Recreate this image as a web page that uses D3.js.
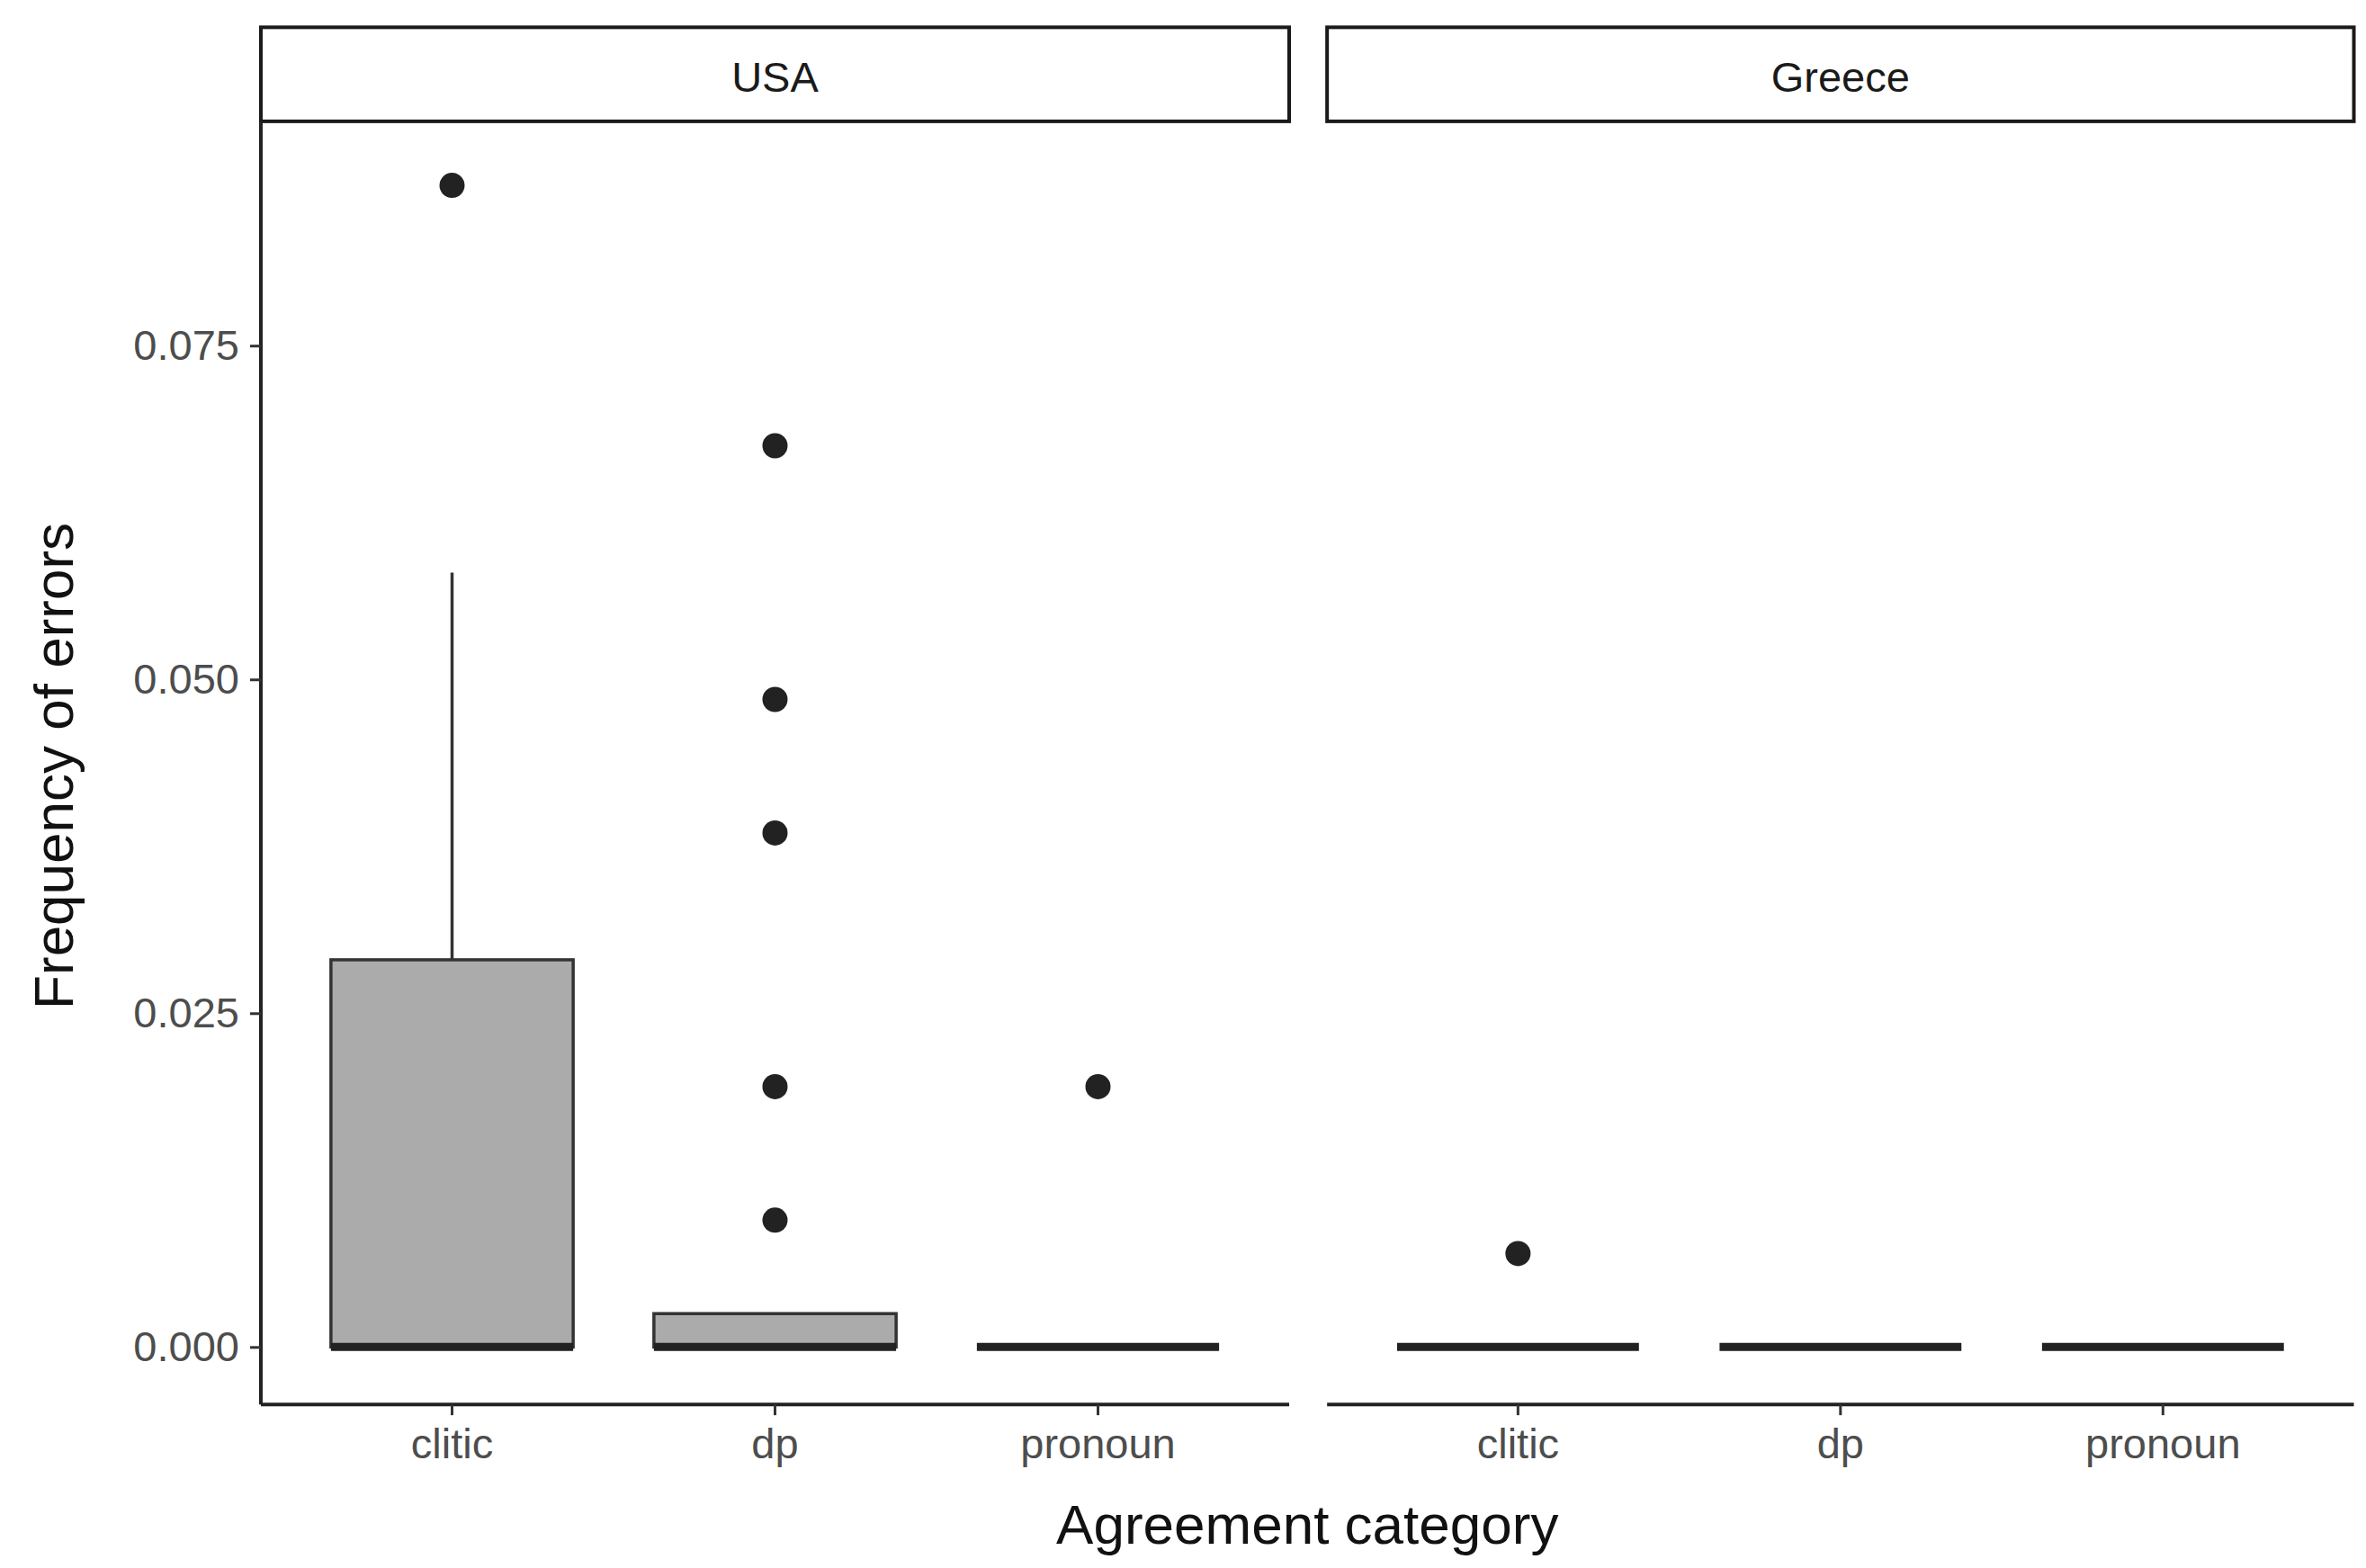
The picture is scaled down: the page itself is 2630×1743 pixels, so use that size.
<!DOCTYPE html>
<html><head><meta charset="utf-8">
<script src="https://cdn.jsdelivr.net/npm/d3@7"></script>
<style>body{margin:0;background:#fff}</style></head>
<body><svg id="c" width="2630" height="1743"></svg>
<script>
const panels = ["USA", "Greece"];
const categories = ["clitic", "dp", "pronoun"];
// box stats per panel: [lowerWhisker, q1, median, q3, upperWhisker]
const usaBoxes = [[0, 0, 0, 0.029, 0.058], [0, 0, 0, 0.0025, 0.0025], [0, 0, 0, 0, 0]];
const greeceBoxes = [[0, 0, 0, 0, 0], [0, 0, 0, 0, 0], [0, 0, 0, 0, 0]];
const usaOutliers = [[0.087], [0.0675, 0.0485, 0.0385, 0.0195, 0.0095], [0.0195]];
const greeceOutliers = [[0.007], [], []];
const yTicks = [0, 0.025, 0.05, 0.075];
const yTickLabels = ["0.000", "0.025", "0.050", "0.075"];

(function () {
const S = 2630 / 1560;
const svg = d3.select("#c");
const font = "Liberation Sans, Arial, sans-serif";
const pTop = 80 * S, pBottom = 926 * S;
const panelX = [[172 * S, 850 * S], [875 * S, 1552 * S]];
const y = d3.scaleLinear().domain([-0.0043, 0.0918]).range([pBottom, pTop]);
const data = [[usaBoxes, usaOutliers], [greeceBoxes, greeceOutliers]];

panels.forEach((p, i) => {
  const [x0, x1] = panelX[i];
  const x = d3.scaleBand().domain(categories).range([x0, x1]).paddingInner(0.25).paddingOuter(0.217);
  const g = svg.append("g");
  g.append("rect").attr("x", x0).attr("y", 18 * S).attr("width", x1 - x0).attr("height", pTop - 18 * S)
    .attr("fill", "#fff").attr("stroke", "#1a1a1a").attr("stroke-width", 4);
  g.append("text").attr("x", (x0 + x1) / 2).attr("y", 51 * S).attr("dy", "0.35em").attr("text-anchor", "middle")
    .attr("font-family", font).attr("font-size", 47).attr("fill", "#1a1a1a").text(p);
  const [boxes, outs] = data[i];
  categories.forEach((c, j) => {
    const b = boxes[j], bx = x(c), bw = x.bandwidth(), cx = bx + bw / 2;
    if (b[4] > b[3]) g.append("line").attr("x1", cx).attr("x2", cx).attr("y1", y(b[3])).attr("y2", y(b[4])).attr("stroke", "#333").attr("stroke-width", 3.5);
    g.append("rect").attr("x", bx).attr("y", y(b[3])).attr("width", bw).attr("height", y(b[1]) - y(b[3]))
      .attr("fill", "#ababab").attr("stroke", "#333").attr("stroke-width", 3.5);
    g.append("line").attr("x1", bx).attr("x2", bx + bw).attr("y1", y(b[2])).attr("y2", y(b[2])).attr("stroke", "#222").attr("stroke-width", 9);
    outs[j].forEach(v => g.append("circle").attr("cx", cx).attr("cy", y(v)).attr("r", 14).attr("fill", "#222"));
  });
  const xa = g.append("g").attr("transform", `translate(0,${pBottom})`).call(d3.axisBottom(x).tickSize(12).tickPadding(14));
  xa.select(".domain").attr("stroke", "#222").attr("stroke-width", 4).attr("d", `M${x0},0H${x1}`);
  xa.selectAll(".tick line").attr("stroke", "#333").attr("stroke-width", 3);
  xa.selectAll("text").attr("font-family", font).attr("font-size", 47).attr("fill", "#4d4d4d");
  if (i === 0) {
    const ya = g.append("g").attr("transform", `translate(${x0},0)`).call(d3.axisLeft(y).tickValues(yTicks).tickFormat((d, k) => yTickLabels[k]).tickSize(12).tickPadding(12));
    ya.select(".domain").attr("stroke", "#222").attr("stroke-width", 4).attr("d", `M0,${pTop}V${pBottom}`);
    ya.selectAll(".tick line").attr("stroke", "#333").attr("stroke-width", 3);
    ya.selectAll("text").attr("font-family", font).attr("font-size", 47).attr("fill", "#4d4d4d");
  }
});
svg.append("text").attr("x", 862 * S).attr("y", 1005 * S).attr("dy", "0.35em").attr("text-anchor", "middle")
  .attr("font-family", font).attr("font-size", 62).attr("fill", "#111").text("Agreement category");
svg.append("text").attr("transform", `translate(${35 * S},${505 * S}) rotate(-90)`).attr("dy", "0.35em").attr("text-anchor", "middle")
  .attr("font-family", font).attr("font-size", 62).attr("fill", "#111").text("Frequency of errors");
})();
</script></body></html>
